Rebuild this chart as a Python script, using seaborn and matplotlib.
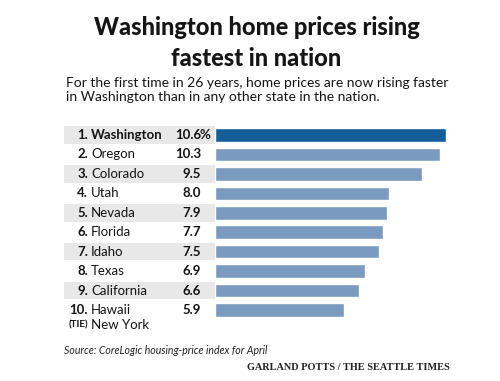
import matplotlib
matplotlib.use("Agg")
import matplotlib.pyplot as plt
import matplotlib.transforms as mtransforms
import seaborn as sns

# data
ranks = ["1.", "2.", "3.", "4.", "5.", "6.", "7.", "8.", "9.", "10."]
states = ["Washington", "Oregon", "Colorado", "Utah", "Nevada",
          "Florida", "Idaho", "Texas", "California", "Hawaii"]
values = [10.6, 10.3, 9.5, 8.0, 7.9, 7.7, 7.5, 6.9, 6.6, 5.9]
tie_rank = "(TIE)"
tie_state = "New York"

title = "Washington home prices rising\nfastest in nation"
subtitle = ("For the first time in 26 years, home prices are now rising faster\n"
            "in Washington than in any other state in the nation.")
source = "Source: CoreLogic housing-price index for April"
credit = "GARLAND POTTS / THE SEATTLE TIMES"

HIGHLIGHT = "#135d98"
BASE = "#7a9bbf"
BAND = "#e8e8e8"
INK = "#151515"

sns.set_style("white")
plt.rcParams["font.family"] = ["Lato", "DejaVu Sans"]

W, H = 500, 381
fig = plt.figure(figsize=(W / 100, H / 100), dpi=100)
fig.patch.set_facecolor("white")

# bar axes spans the full width; x scale chosen so 0 sits at px 215
px_per_unit = 21.8
x0_px = 215
xlim = (-x0_px / px_per_unit, (W - x0_px) / px_per_unit)
top_px, bot_px = 125.3, 339.1
ax = fig.add_axes([0, (H - bot_px) / H, 1, (bot_px - top_px) / H])

palette = [HIGHLIGHT] + [BASE] * (len(states) - 1)
sns.barplot(x=values, y=states, hue=states, palette=palette, legend=False,
            orient="h", width=0.7, saturation=1, ax=ax, zorder=3)
ax.set_xlim(*xlim)
ax.set_ylim(len(states) + 0.5, -0.5)
ax.axis("off")

# alternating gray bands behind the labels
for i in range(0, len(states), 2):
    ax.axhspan(i - 0.45, i + 0.45, xmin=64 / W, xmax=215 / W,
               color=BAND, lw=0, zorder=1)

trans = mtransforms.blended_transform_factory(fig.transFigure, ax.transData)
fs = 9.5
for i, (r, s, v) in enumerate(zip(ranks, states, values)):
    bold = "bold" if i == 0 else "normal"
    ax.text(88 / W, i, r, transform=trans, ha="right", va="center",
            fontsize=fs, fontweight="bold", color=INK, zorder=4)
    ax.text(91 / W, i, s, transform=trans, ha="left", va="center",
            fontsize=fs, fontweight=bold, color=INK, zorder=4)
    ax.text(201 / W, i, f"{v:.1f}", transform=trans, ha="right", va="center",
            fontsize=fs, fontweight="bold", color=INK, zorder=4)
    if i == 0:
        ax.text(200 / W, i, "%", transform=trans, ha="left", va="center",
                fontsize=fs, fontweight="bold", color=INK, zorder=4)

n = len(states) - 1
ax.text(88 / W, n + 0.75, tie_rank, transform=trans, ha="right", va="center",
        fontsize=7, fontweight="bold", color=INK)
ax.text(91 / W, n + 0.75, tie_state, transform=trans, ha="left", va="center",
        fontsize=fs, color=INK)

fig.text(0.513, 1 - 43 / H, title, ha="center", va="center", fontsize=17,
         fontweight="black", color=INK, linespacing=1.38)
fig.text(66 / W, 1 - 90 / H, subtitle, ha="left", va="center", fontsize=10,
         color=INK, linespacing=1.2)
fig.text(64 / W, 1 - 351 / H, source, ha="left", va="center", fontsize=7.6,
         style="italic", color="#222222")
fig.text(450 / W, 1 - 367 / H, credit, ha="right", va="center", fontsize=7.4,
         fontweight="bold", color="#222222",
         family=["Liberation Serif", "DejaVu Serif"])

fig.savefig("out.png", dpi=100, facecolor="white")
